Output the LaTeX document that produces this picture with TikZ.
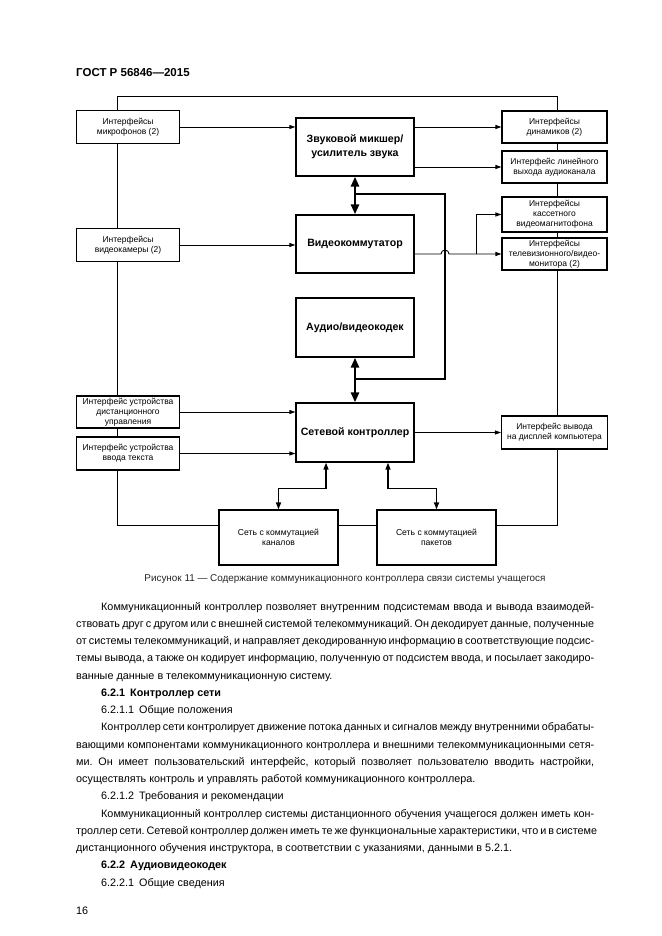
\documentclass[tikz,border=0pt]{standalone}
\usepackage{fontspec}
\setmainfont{Liberation Sans}
\usetikzlibrary{arrows.meta,calc}
\frenchspacing
\begin{document}
\begin{tikzpicture}[x=1pt,y=-1pt,
  sbox/.style={draw,fill=white,line width=1.1pt,align=center,inner sep=0pt,
    font=\fontsize{8.5}{10}\selectfont,minimum width=103pt,minimum height=33pt},
  bbox/.style={draw,fill=white,line width=1.3pt,align=center,inner sep=0pt,
    font=\bfseries\fontsize{10.6}{14}\selectfont,minimum width=118pt,minimum height=58pt},
  nbox/.style={draw,fill=white,line width=1.2pt,align=center,inner sep=0pt,
    font=\fontsize{8.6}{10}\selectfont,minimum width=119pt,minimum height=55pt},
  thinl/.style={line width=0.9pt},
  arr/.style={line width=0.9pt,-{Triangle[length=6pt,width=4pt]}},
  busl/.style={line width=2.6pt},
  busarr/.style={line width=2.6pt,{Triangle[length=10pt,width=8pt]}-{Triangle[length=10pt,width=8pt]}},
  midarr/.style={line width=1.5pt,{Triangle[length=7pt,width=5pt]}-{Triangle[length=7pt,width=5pt]}},
  bodyl/.style={anchor=base west,inner sep=0pt,font=\fontsize{10.8}{13}\selectfont},
  headl/.style={anchor=base west,inner sep=0pt,font=\bfseries\fontsize{10.8}{13}\selectfont}
]
\useasboundingbox[fill=white] (0,0) rectangle (661,936);

% frame
\coordinate (tl) at (117,96);
\coordinate (tr) at (557,96);
\coordinate (br) at (557,525);
\coordinate (bl) at (117,525);
\draw[thinl] (bl) -- (tl) -- (tr) -- (br) -- cycle;

% header
\node[anchor=base west,inner sep=0pt,font=\bfseries\fontsize{11.5}{14}\selectfont] (hdr) at (76,77) {ГОСТ Р 56846—2015};

% left boxes
\node[sbox] (mic) at (128,127) {Интерфейсы\\микрофонов (2)};
\node[sbox] (cam) at (128,245) {Интерфейсы\\видеокамеры (2)};
\node[sbox,minimum height=32pt] (remote) at (128,412) {Интерфейс устройства\\дистанционного\\управления};
\node[sbox] (txt) at (128,453.5) {Интерфейс устройства\\ввода текста};

% central boxes
\node[bbox] (mixer) at (355,147) {Звуковой микшер/\\усилитель звука};
\node[bbox] (video) at (355,244) {Видеокоммутатор};
\node[bbox,minimum height=59pt] (codec) at (355,327.5) {Аудио/видеокодек};
\node[bbox,minimum height=59pt] (net) at (355,432.5) {Сетевой контроллер};

% right boxes
\node[sbox,minimum width=105pt,minimum height=32pt] (spk) at (554.5,127) {Интерфейсы\\динамиков (2)};
\node[sbox,minimum width=105pt,minimum height=32pt] (lout) at (554.5,167) {Интерфейс линейного\\выхода аудиоканала};
\node[sbox,minimum width=105pt,minimum height=35pt] (vcr) at (554.5,214.5) {Интерфейсы\\кассетного\\видеомагнитофона};
\node[sbox,minimum width=105pt,minimum height=32pt] (tv) at (554.5,254) {Интерфейсы\\телевизионного/видео-\\монитора (2)};
\node[sbox,minimum width=106pt,minimum height=33pt] (disp) at (554.5,432.5) {Интерфейс вывода\\на дисплей компьютера};

% network boxes
\node[nbox] (chan) at (278.5,537.5) {Сеть с коммутацией\\каналов};
\node[nbox] (pack) at (436.5,537.5) {Сеть с коммутацией\\пакетов};

% input arrows
\draw[arr] (mic.east) -- (mic.east -| mixer.west);
\draw[arr] (cam.east) -- (cam.east -| video.west);
\draw[arr] (remote.east) -- (remote.east -| net.west);
\draw[arr] (txt.east) -- (txt.east -| net.west);

% output arrows
\draw[arr] (spk.west -| mixer.east) -- (spk.west);
\draw[arr] (lout.west -| mixer.east) -- (lout.west);
\draw[arr] (net.east |- disp.west) -- (disp.west);
\coordinate (vj) at (476,254);
\draw[arr] (tv.west -| video.east) -- (441,254) arc[start angle=180,end angle=360,radius=4] -- (tv.west);
\draw[arr] (vj) |- (vcr.west);

% thick bus
\coordinate (b1) at (355,194);
\coordinate (b2) at (445,194);
\coordinate (b3) at (445,379);
\coordinate (b4) at (355,379);
\draw[busl] (b1) -- (b2) -- (b3) -- (b4);
\draw[busarr] (mixer.south) -- (video.north);
\draw[busarr] (codec.south) -- (net.north);

% network links
\draw[midarr] (net.south -| 326,0) -- ++(0,26) -| (chan.north);
\draw[midarr] (net.south -| 388,0) -- ++(0,26) -| (pack.north);

% caption
\node[inner sep=0pt,font=\fontsize{9.9}{12}\selectfont,text=black!85] (cap) at (345,579.5) {Рисунок 11 — Содержание коммуникационного контроллера связи системы учащегося};

% body text
\node[bodyl] (t1) at (101,610) {\makebox[493pt][s]{Коммуникационный контроллер позволяет внутренним подсистемам ввода и вывода взаимодей-}};
\node[bodyl] (t2) at (76,627.25) {\makebox[518pt][s]{ствовать друг с другом или с внешней системой телекоммуникаций. Он декодирует данные, полученные}};
\node[bodyl] (t3) at (76,644.5) {\makebox[518pt][s]{от системы телекоммуникаций, и направляет декодированную информацию в соответствующие подсис-}};
\node[bodyl] (t4) at (76,661.75) {\makebox[518pt][s]{темы вывода, а также он кодирует информацию, полученную от подсистем ввода, и посылает закодиро-}};
\node[bodyl] (t5) at (76,679) {ванные данные в телекоммуникационную систему.};
\node[headl] (t6) at (101,696.25) {6.2.1\hspace{5pt}Контроллер сети};
\node[bodyl] (t7) at (101,713.5) {6.2.1.1\hspace{5pt}Общие положения};
\node[bodyl] (t8) at (101,730.75) {\makebox[493pt][s]{Контроллер сети контролирует движение потока данных и сигналов между внутренними обрабаты-}};
\node[bodyl] (t9) at (76,748) {\makebox[518pt][s]{вающими компонентами коммуникационного контроллера и внешними телекоммуникационными сетя-}};
\node[bodyl] (t10) at (76,765.25) {\makebox[518pt][s]{ми. Он имеет пользовательский интерфейс, который позволяет пользователю вводить настройки,}};
\node[bodyl] (t11) at (76,782.5) {осуществлять контроль и управлять работой коммуникационного контроллера.};
\node[bodyl] (t12) at (101,799.75) {6.2.1.2\hspace{5pt}Требования и рекомендации};
\node[bodyl] (t13) at (101,817) {\makebox[493pt][s]{Коммуникационный контроллер системы дистанционного обучения учащегося должен иметь кон-}};
\node[bodyl] (t14) at (76,834.25) {\makebox[518pt][s]{троллер сети. Сетевой контроллер должен иметь те же функциональные характеристики, что и в системе}};
\node[bodyl] (t15) at (76,851.5) {дистанционного обучения инструктора, в соответствии с указаниями, данными в 5.2.1.};
\node[headl] (t16) at (101,868.75) {6.2.2\hspace{5pt}Аудиовидеокодек};
\node[bodyl] (t17) at (101,886) {6.2.2.1\hspace{5pt}Общие сведения};
\node[bodyl] (pg) at (76,914) {16};
\end{tikzpicture}
\end{document}
